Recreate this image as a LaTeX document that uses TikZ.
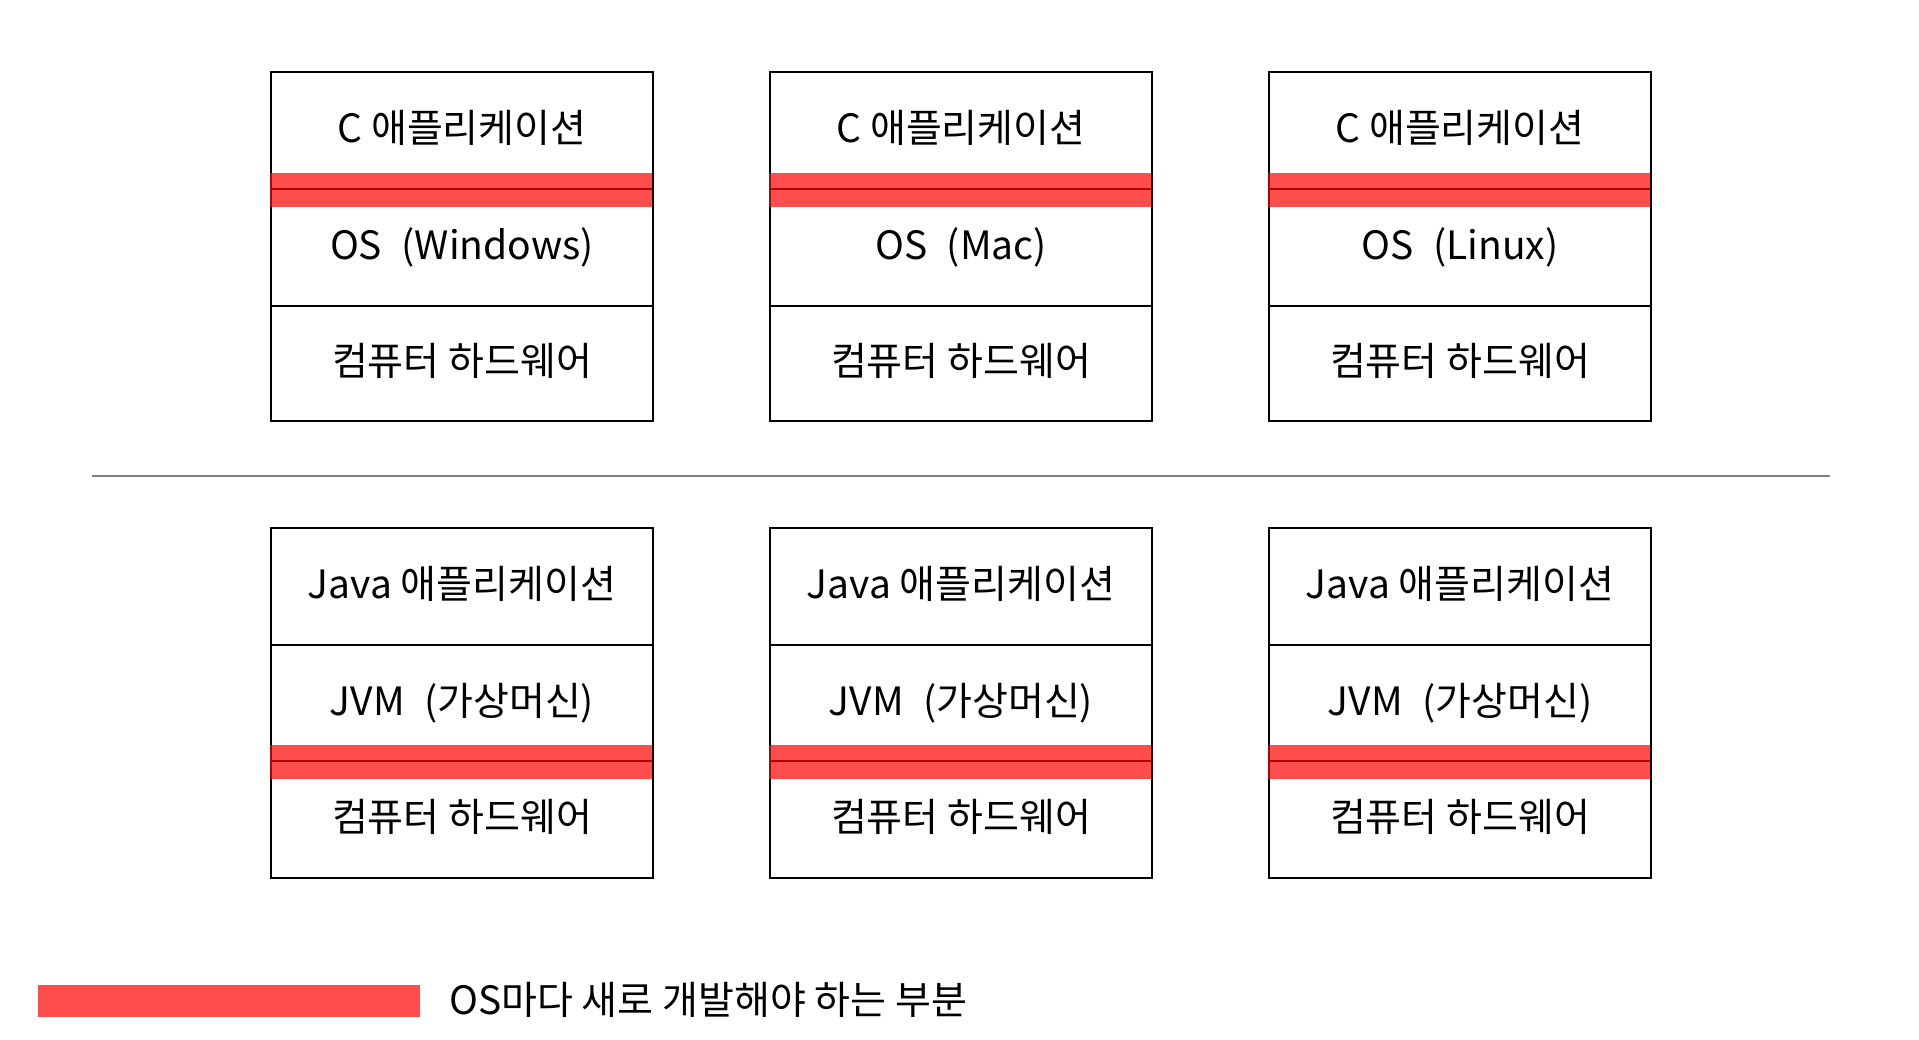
\documentclass[tikz,border=0pt]{standalone}
\usepackage{fontspec}
\setmainfont{Noto Sans CJK KR}
\definecolor{bandred}{RGB}{255,77,77}
\newcommand{\widesp}{\hspace{0.5em}}
\begin{document}
\begin{tikzpicture}[x=1pt,y=-1pt,
  cell/.style={draw=black, line width=2pt, minimum width=382pt, inner sep=0pt,
    text height=30pt, text depth=6pt,
    anchor=north west, font=\fontsize{39}{44}\selectfont},
  band/.style={fill=red, fill opacity=0.7, draw=none, minimum width=382pt,
    minimum height=34pt, inner sep=0pt, anchor=west},
  sepline/.style={draw=gray, line width=1.5pt}]
\useasboundingbox (0,0) rectangle (1919,1040);
% top row: C applications
\foreach \i/\x/\os in {1/270/Windows,2/769/Mac,3/1268/Linux}{
  \node[cell, minimum height=117pt] (capp\i) at (\x,71) {C 애플리케이션};
  \node[cell, minimum height=117pt] (cos\i) at (\x,188) {OS\widesp(\os)};
  \node[cell, minimum height=115pt] (chw\i) at (\x,305) {컴퓨터 하드웨어};
  \node[band] (cband\i) at (\x,190) {};
}
% separator
\coordinate (sepL) at (92,476);
\coordinate (sepR) at (1830,476);
\draw[sepline] (sepL) -- (sepR);
% bottom row: Java applications
\foreach \i/\x in {1/270,2/769,3/1268}{
  \node[cell, minimum height=117pt] (japp\i) at (\x,527) {Java 애플리케이션};
  \node[cell, minimum height=116pt] (jvm\i) at (\x,644) {JVM\widesp(가상머신)};
  \node[cell, minimum height=117pt] (jhw\i) at (\x,760) {컴퓨터 하드웨어};
  \node[band] (jband\i) at (\x,762) {};
}
% legend
\node[fill=bandred, draw=none, minimum width=382pt, minimum height=32pt,
  inner sep=0pt, anchor=north west] (legbox) at (38,985) {};
\node[anchor=west, inner sep=0pt, font=\fontsize{39}{44}\selectfont] (legtext) at (449,1000) {OS마다 새로 개발해야 하는 부분};
\end{tikzpicture}
\end{document}
